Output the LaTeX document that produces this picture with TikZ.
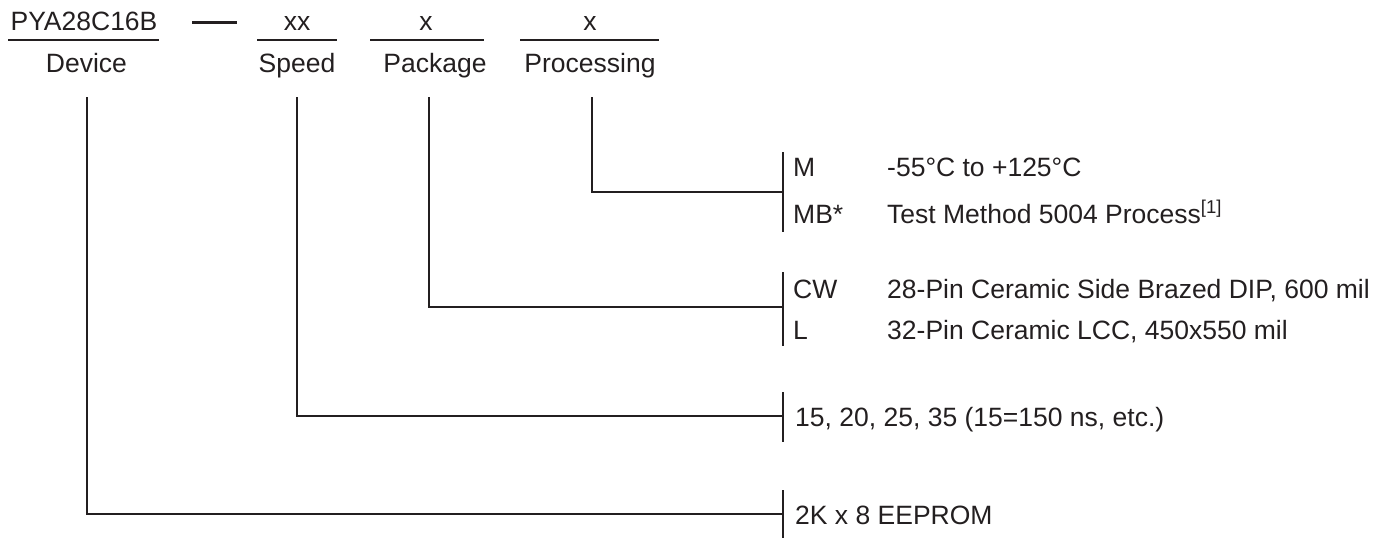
\documentclass[tikz,border=0pt]{standalone}
\usepackage{fontspec}
\setmainfont{Liberation Sans}
\usetikzlibrary{positioning, calc}
\definecolor{ink}{RGB}{35,31,32}

\begin{document}
\begin{tikzpicture}[x=1pt, y=-1pt,
    every node/.style={font=\fontsize{26.5}{30}\selectfont, inner sep=0pt, text=ink},
    lbl/.style={anchor=base},
    opt/.style={anchor=base west},
    wire/.style={draw=ink, line width=2pt}]
    \useasboundingbox (0,0) rectangle (1395,538);
    % part number and field names
    \node[lbl] (devname) at (84,30) {PYA28C16B};
    \node[lbl] (spdname) at (297,30) {xx};
    \node[lbl] (pkgname) at (426,30) {x};
    \node[lbl] (procname) at (590,30) {x};
    \node[lbl] (devlbl) at (86.5,72) {Device};
    \node[lbl] (spdlbl) at (297,72) {Speed};
    \node[lbl] (pkglbl) at (435,72) {Package};
    \node[lbl] (proclbl) at (590,72) {Processing};
    \foreach \a/\b in {8/159, 257/337, 370/484, 520/659}
        \draw[wire] (\a,40) -- (\b,40);
    \draw[wire, line width=3pt] (192,22) -- (237,22);
    % drops
    \coordinate (devtop) at (87,97);
    \coordinate (spdtop) at (297,97);
    \coordinate (pkgtop) at (429,97);
    \coordinate (proctop) at (592,97);
    % brackets
    \coordinate (procbr) at (783,192);
    \coordinate (pkgbr) at (783,307);
    \coordinate (spdbr) at (783,416);
    \coordinate (devbr) at (783,514);
    \draw[wire] (783,152) -- (783,232);
    \draw[wire] (783,272) -- (783,346);
    \draw[wire] (783,392) -- (783,442);
    \draw[wire] (783,490) -- (783,538);
    \draw[wire] (proctop) |- (procbr);
    \draw[wire] (pkgtop) |- (pkgbr);
    \draw[wire] (spdtop) |- (spdbr);
    \draw[wire] (devtop) |- (devbr);
    % options
    \node[opt] (procm) at (793,176) {M};
    \node[opt] (procmb) at (793,223) {MB*};
    \node[opt] (procmtxt) at (887,176) {-55°C to +125°C};
    \node[opt] (procmbtxt) at (887,223) {Test Method 5004 Process\textsuperscript{[1]}};
    \node[opt] (pkgcw) at (793,298) {CW};
    \node[opt] (pkgl) at (793,339) {L};
    \node[opt] (pkgcwtxt) at (887,298) {28-Pin Ceramic Side Brazed DIP, 600 mil};
    \node[opt] (pkgltxt) at (887,339) {32-Pin Ceramic LCC, 450x550 mil};
    \node[opt] (spdtxt) at (795,426) {15, 20, 25, 35 (15=150 ns, etc.)};
    \node[opt] (devtxt) at (795,524) {2K x 8 EEPROM};
\end{tikzpicture}
\end{document}
